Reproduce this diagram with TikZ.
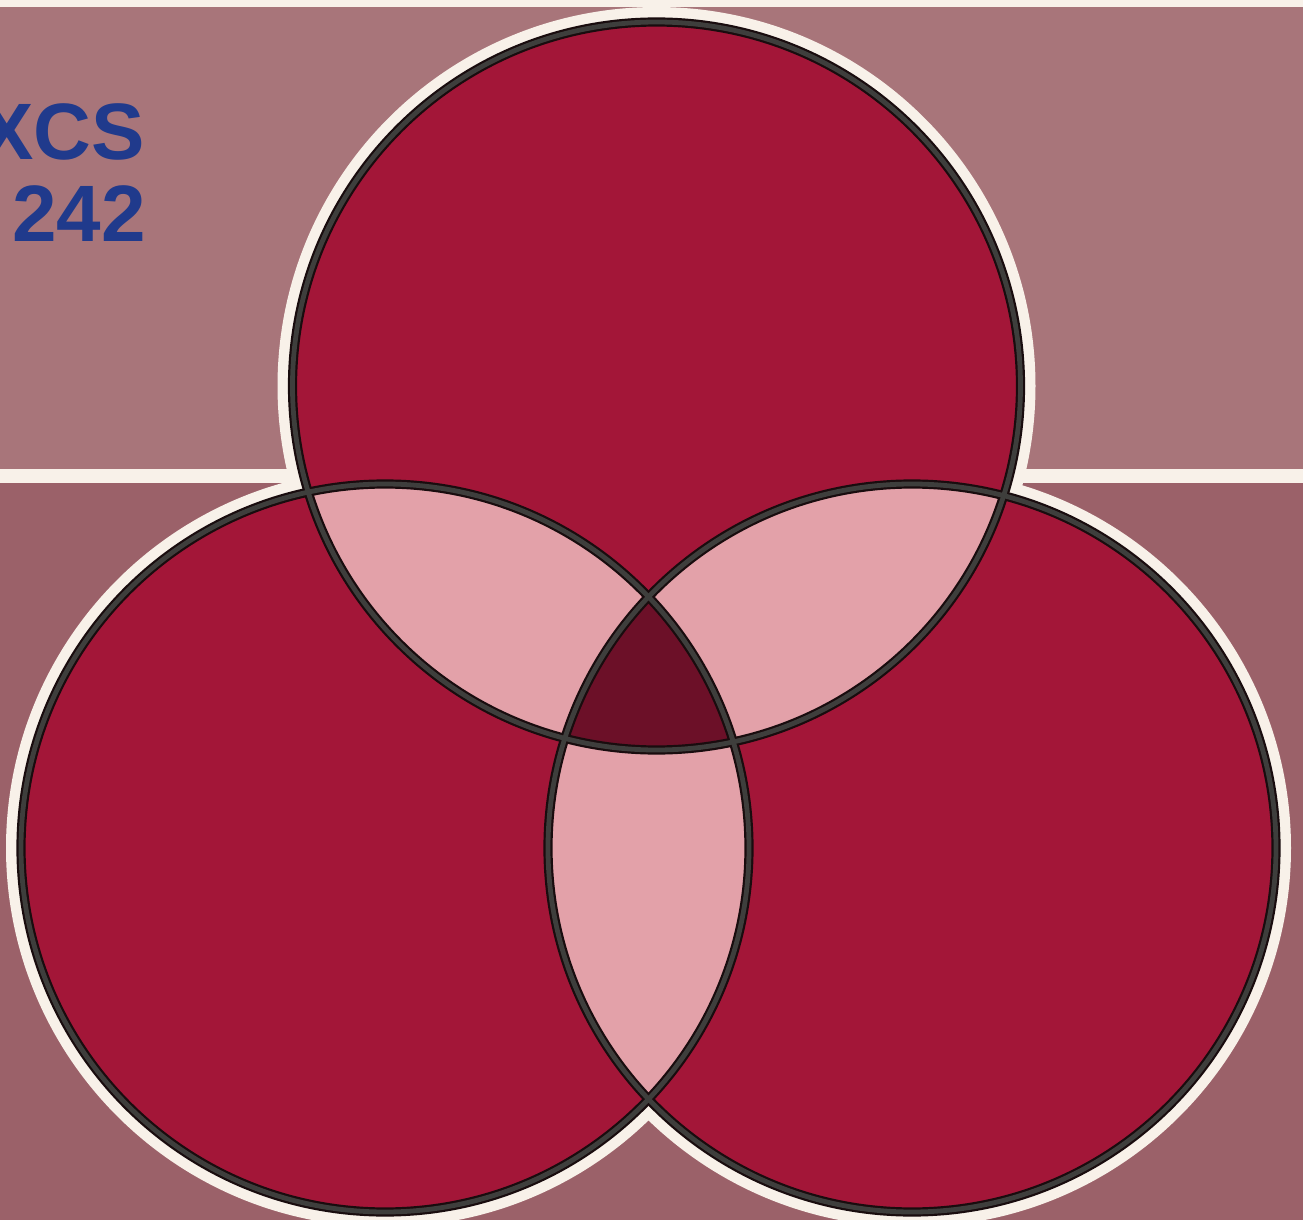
\documentclass[tikz,border=0pt]{standalone}
\usepackage{fontspec}
\setmainfont{Liberation Sans}
\definecolor{bgtop}{RGB}{168,117,122}
\definecolor{bgbot}{RGB}{155,97,105}
\definecolor{cream}{RGB}{248,241,233}
\definecolor{crim}{RGB}{163,22,56}
\definecolor{lens}{RGB}{227,161,169}
\definecolor{core}{RGB}{108,16,40}
\definecolor{outl}{RGB}{62,62,60}
\definecolor{outdark}{RGB}{25,12,14}
\definecolor{ink}{RGB}{32,58,140}
\tikzset{
  ringouter/.style={draw=outdark, line width=4.6pt},
  ringinner/.style={draw=outl, line width=2.4pt},
  handtext/.style={text=ink, inner sep=0pt, font=\bfseries\fontsize{40}{40}\selectfont}
}
\begin{document}
\begin{tikzpicture}[x=0.5pt,y=-0.5pt]
\useasboundingbox (0,0) rectangle (1303,1220);
% background
\fill[cream] (0,0) rectangle (1303,1220);
\fill[bgtop] (0,7) rectangle (1303,469);
\fill[bgbot] (0,483) rectangle (1303,1220);
% centres
\coordinate (T) at (656.5,386);
\coordinate (L) at (385,848);
\coordinate (R) at (912,848);
% handwriting
\node[handtext, anchor=base west] (hw1) at (-20,160) {XCS};
\node[handtext, anchor=base west] (hw2) at (12,242) {242};
% cream halo
\fill[cream] (T) circle (189.5pt) (L) circle (189.5pt) (R) circle (189.5pt);
% discs
\fill[crim] (T) circle (182pt) (L) circle (182pt) (R) circle (182pt);
% lenses
\begin{scope}\clip (T) circle (182pt); \fill[lens] (L) circle (182pt); \fill[lens] (R) circle (182pt);\end{scope}
\begin{scope}\clip (L) circle (182pt); \fill[lens] (R) circle (182pt);\end{scope}
% core
\begin{scope}\clip (T) circle (182pt); \clip (L) circle (182pt); \fill[core] (R) circle (182pt);\end{scope}
% outlines
\foreach \c in {T,L,R} { \draw[ringouter] (\c) circle (182pt); }
\foreach \c in {T,L,R} { \draw[ringinner] (\c) circle (182pt); }
\end{tikzpicture}
\end{document}
